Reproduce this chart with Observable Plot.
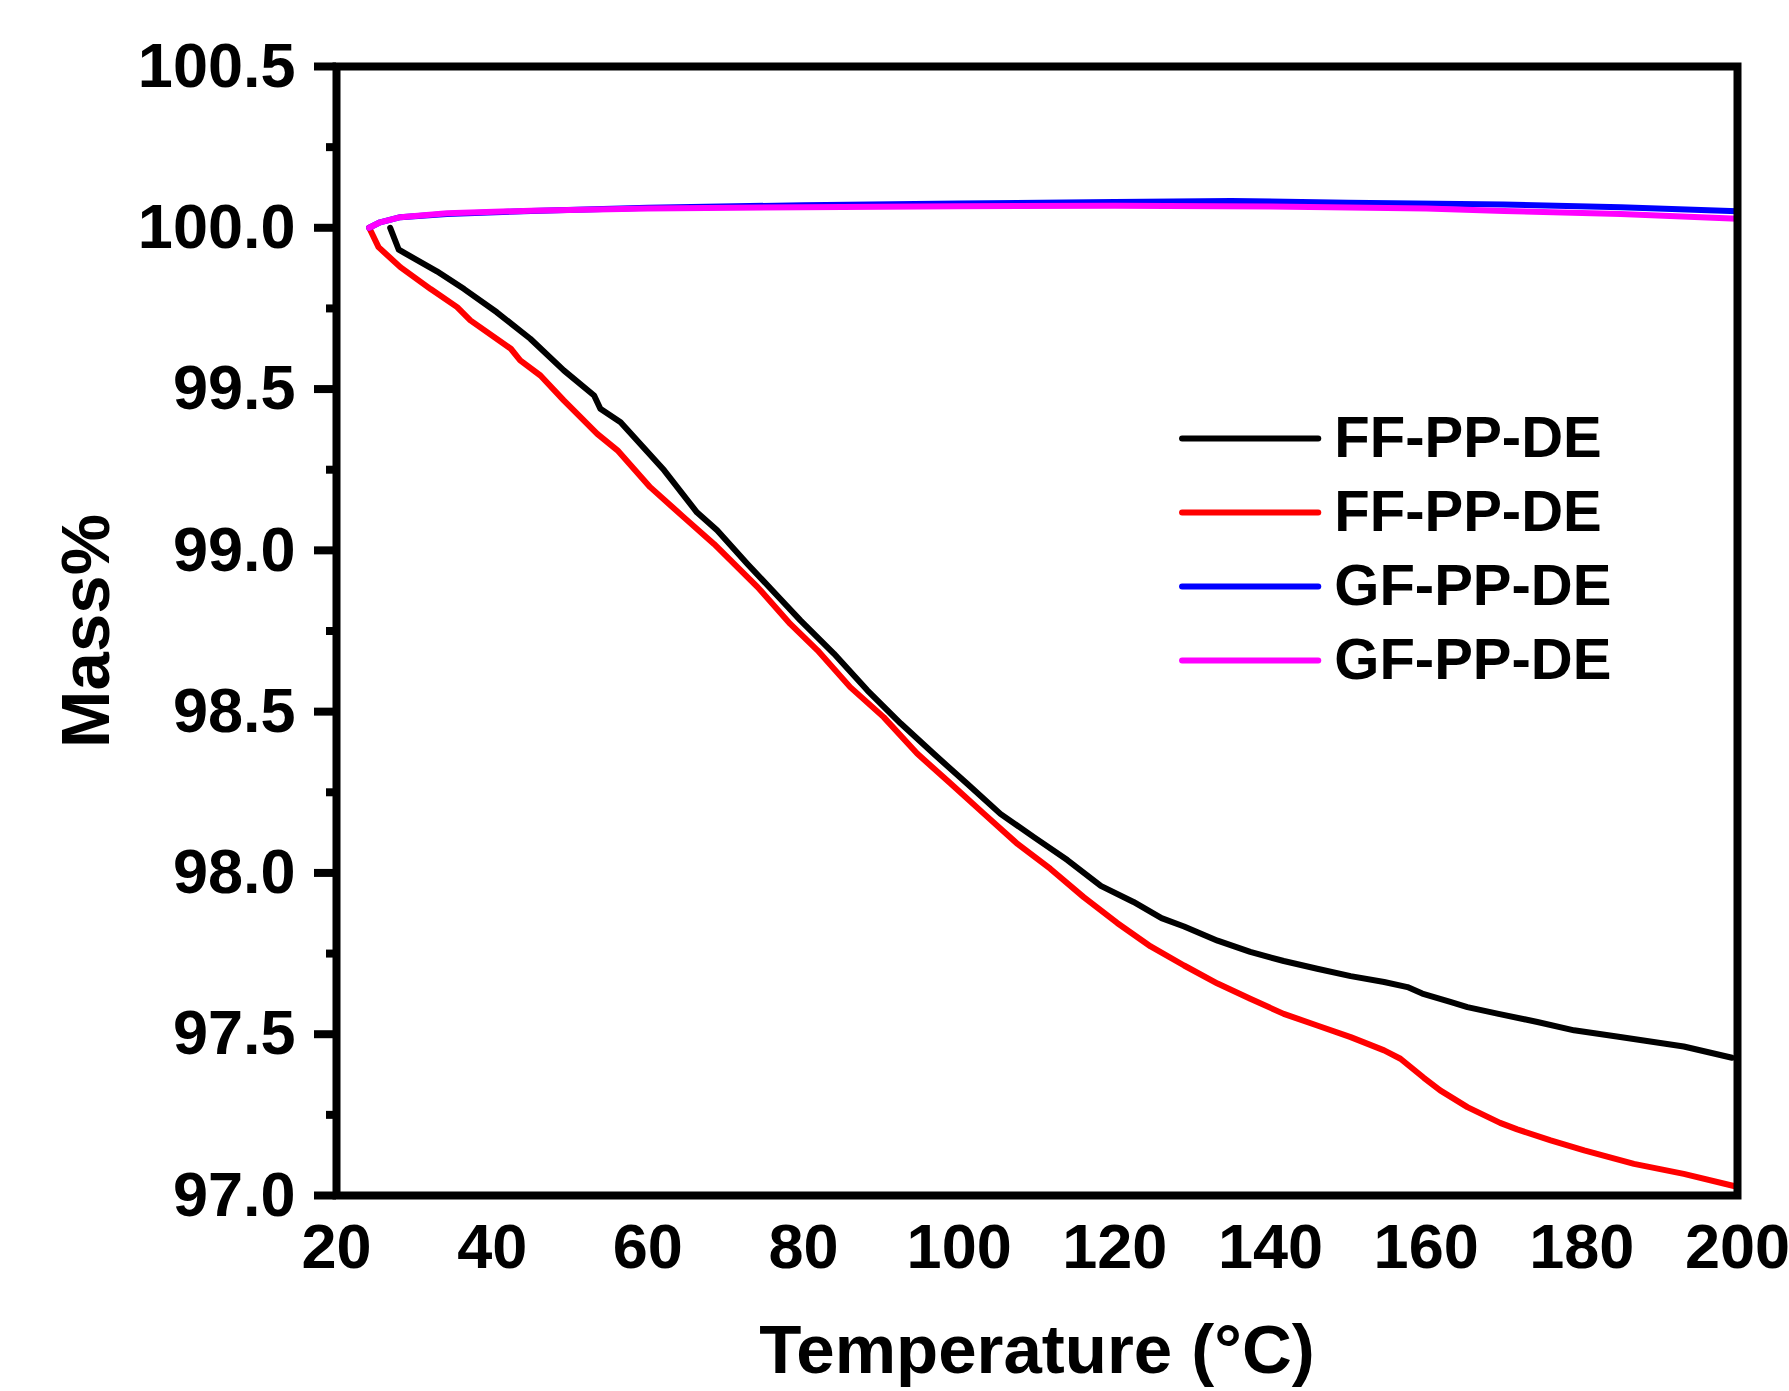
<!DOCTYPE html>
<html>
<head>
<meta charset="utf-8">
<script src="https://cdn.jsdelivr.net/npm/d3@7"></script>
<script src="https://cdn.jsdelivr.net/npm/@observablehq/plot@0.6"></script>
<style>
  html, body { margin: 0; padding: 0; background: #fff; }
  #chart svg { font-family: "Liberation Sans", Arial, sans-serif; font-weight: bold; }
</style>
</head>
<body>
<div id="chart"></div>
<script>
// ---- data ----
const seriesNames = ["FF-PP-DE", "FF-PP-DE", "GF-PP-DE", "GF-PP-DE"];
const seriesColors = ["#000000", "#ff0000", "#0000ff", "#ff00ff"];

const ff1Temp = [26.9, 28.0, 32.9, 36.4, 40.6, 44.9, 49.2, 53.1, 53.9, 56.5, 62.1, 66.3, 68.9, 72.8, 77.0, 79.6, 83.9, 88.2, 92.5, 96.7, 101.0, 105.3, 109.6, 113.9, 118.2, 122.4, 126.0, 128.9, 133.2, 137.4, 141.7, 146.0, 150.3, 154.6, 157.6, 159.5, 163.1, 165.3, 169.3, 174.3, 179.0, 184.5, 193.1, 199.3];
const ff1Mass = [100.0, 99.932, 99.865, 99.81, 99.738, 99.656, 99.558, 99.48, 99.439, 99.397, 99.248, 99.118, 99.062, 98.958, 98.85, 98.783, 98.68, 98.566, 98.463, 98.37, 98.277, 98.183, 98.111, 98.04, 97.96, 97.91, 97.86, 97.834, 97.79, 97.755, 97.727, 97.703, 97.68, 97.662, 97.646, 97.626, 97.6, 97.584, 97.563, 97.538, 97.512, 97.493, 97.462, 97.427];

const ff2Temp = [24.2, 25.4, 28.2, 32.1, 35.5, 37.2, 42.4, 43.6, 46.2, 49.2, 53.5, 56.1, 60.3, 64.6, 68.5, 74.1, 78.3, 81.8, 86.0, 90.3, 94.6, 98.9, 103.2, 107.5, 111.7, 116.0, 120.3, 124.6, 128.9, 133.2, 137.4, 141.7, 146.0, 150.3, 154.6, 156.7, 159.7, 161.8, 165.3, 169.5, 171.7, 176.0, 180.3, 186.7, 193.1, 199.8];
const ff2Mass = [100.0, 99.94, 99.878, 99.81, 99.754, 99.713, 99.625, 99.589, 99.542, 99.465, 99.361, 99.31, 99.196, 99.103, 99.02, 98.886, 98.772, 98.69, 98.576, 98.483, 98.37, 98.277, 98.183, 98.09, 98.013, 97.925, 97.845, 97.772, 97.713, 97.657, 97.61, 97.563, 97.527, 97.491, 97.45, 97.424, 97.365, 97.326, 97.274, 97.225, 97.205, 97.171, 97.14, 97.098, 97.067, 97.028];

const gf1Temp = [24.2, 25.6, 28.2, 34.2, 45.0, 60.0, 80.0, 100.0, 120.0, 135.0, 150.0, 170.0, 185.0, 200.0];
const gf1Mass = [100.0, 100.017, 100.033, 100.043, 100.052, 100.062, 100.07, 100.075, 100.08, 100.083, 100.078, 100.072, 100.064, 100.051];

const gf2Temp = [24.2, 25.6, 28.2, 34.2, 45.0, 60.0, 80.0, 100.0, 120.0, 140.0, 160.0, 170.0, 185.0, 200.0];
const gf2Mass = [100.0, 100.017, 100.033, 100.045, 100.053, 100.06, 100.064, 100.067, 100.068, 100.066, 100.06, 100.052, 100.043, 100.028];

const xTicks = [20, 40, 60, 80, 100, 120, 140, 160, 180, 200];
const yTicks = [97.0, 97.5, 98.0, 98.5, 99.0, 99.5, 100.0, 100.5];
const yMinorTicks = [97.25, 97.75, 98.25, 98.75, 99.25, 99.75, 100.25];
const xLabel = "Temperature (°C)";
const yLabel = "Mass%";

// ---- build tables ----
const temps = [ff1Temp, ff2Temp, gf1Temp, gf2Temp];
const masses = [ff1Mass, ff2Mass, gf1Mass, gf2Mass];
const tables = temps.map((t, s) => t.map((v, i) => ({T: v, M: masses[s][i]})));

// ---- layout ----
const legendX1 = 128.7, legendX2 = 146.2, legendTextX = 148.2;
const legendY0 = 99.347, legendStep = 0.2295;

const marks = [];
tables.forEach((tbl, s) => {
  marks.push(Plot.line(tbl, {x: "T", y: "M", stroke: seriesColors[s], strokeWidth: 6, strokeLinejoin: "round", strokeLinecap: "round"}));
});
seriesNames.forEach((name, s) => {
  const ly = legendY0 - s * legendStep;
  marks.push(Plot.ruleY([ly], {x1: legendX1, x2: legendX2, stroke: seriesColors[s], strokeWidth: 6, strokeLinecap: "round"}));
  marks.push(Plot.text([name], {x: legendTextX, y: ly, text: d => d, textAnchor: "start", lineAnchor: "middle", fontSize: 58, fontWeight: "bold", fill: "#000"}));
});

marks.push(
  Plot.axisY(yMinorTicks, {tickSize: 10, strokeWidth: 8, tickFormat: () => "", label: null}),
  Plot.axisY(yTicks, {tickSize: 22, tickPadding: 19, strokeWidth: 8, fontSize: 63, fontWeight: "bold", tickFormat: d => d.toFixed(1), label: null}),
  Plot.axisX(xTicks, {tickSize: 0, tickPadding: 28, fontSize: 63, fontWeight: "bold", tickFormat: d => String(d), label: null}),
  Plot.text([yLabel], {frameAnchor: "left", dx: -250, rotate: -90, textAnchor: "middle", lineAnchor: "middle", text: d => d, fontSize: 69, fontWeight: "bold", fill: "#000"}),
  Plot.text([xLabel], {frameAnchor: "bottom", dy: 155, textAnchor: "middle", lineAnchor: "middle", text: d => d, fontSize: 69, fontWeight: "bold", fill: "#000"}),
  Plot.frame({stroke: "#000", strokeWidth: 8})
);

const chart = Plot.plot({
  width: 1789,
  height: 1391,
  marginLeft: 336,
  marginRight: 52,
  marginTop: 66,
  marginBottom: 196,
  style: {background: "#fff", color: "#000", fontFamily: "'Liberation Sans', Arial, sans-serif", overflow: "visible"},
  x: {domain: [20, 200]},
  y: {domain: [97, 100.5]},
  marks
});
document.getElementById("chart").appendChild(chart);
</script>
</body>
</html>
